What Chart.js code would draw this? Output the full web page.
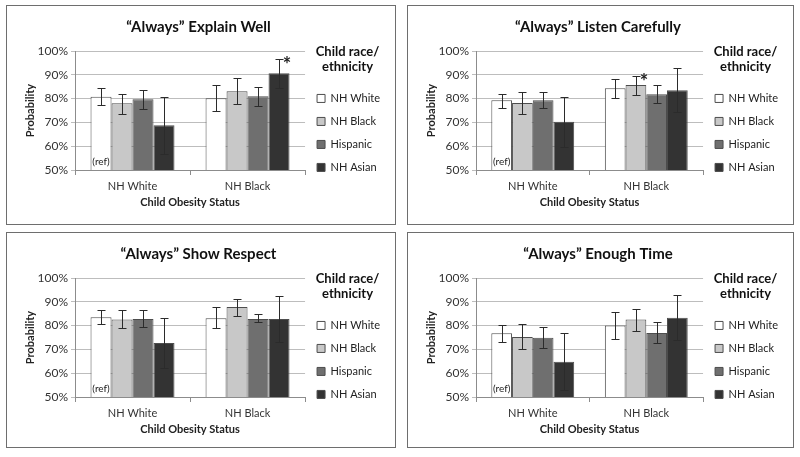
<!DOCTYPE html>
<html>
<head>
<meta charset="utf-8">
<script src="https://cdn.jsdelivr.net/npm/chart.js@4"></script>
<style>
  body { margin: 0; background: #fff; width: 800px; height: 457px; position: relative; overflow: hidden; }
  .panel { position: absolute; border: 1px solid #6e6e6e; box-sizing: border-box; background: #fff; }
  .panel canvas { display: block; }
</style>
</head>
<body>
<div class="panel" style="left:6px;top:5px;width:390px;height:220px"><canvas id="explain_chart" width="388" height="218"></canvas></div>
<div class="panel" style="left:407px;top:5px;width:387px;height:220px"><canvas id="listen_chart" width="385" height="218"></canvas></div>
<div class="panel" style="left:6px;top:232px;width:390px;height:216px"><canvas id="respect_chart" width="388" height="214"></canvas></div>
<div class="panel" style="left:407px;top:232px;width:387px;height:216px"><canvas id="time_chart" width="385" height="214"></canvas></div>
<script>
const categories = ['NH White', 'NH Black'];
const raceGroups = ['NH White', 'NH Black', 'Hispanic', 'NH Asian'];
const raceColors = ['#ffffff', '#c8c8c8', '#6f6f6f', '#333333'];

// [race][obesity group], in %
const explainWellMean = [[80.8, 80.1], [78.0, 83.1], [79.7, 81.0], [68.8, 90.6]];
const explainWellLow = [[77.3, 74.6], [73.5, 77.9], [75.8, 76.8], [56.9, 84.3]];
const explainWellHigh = [[84.3, 85.6], [81.9, 88.5], [83.5, 84.9], [80.8, 96.8]];

const listenMean = [[79.3, 84.3], [78.2, 85.7], [79.3, 81.8], [70.3, 83.5]];
const listenLow = [[75.9, 80.1], [73.5, 81.4], [75.9, 78.0], [59.7, 74.2]];
const listenHigh = [[82.1, 88.4], [82.6, 89.6], [82.9, 85.6], [80.8, 93.0]];

const respectMean = [[83.5, 83.1], [82.6, 87.8], [82.8, 82.8], [72.7, 82.8]];
const respectLow = [[80.5, 79.0], [78.9, 83.9], [79.3, 81.4], [62.0, 73.2]];
const respectHigh = [[86.7, 87.7], [86.7, 91.3], [86.7, 84.7], [83.1, 92.6]];

const timeMean = [[76.8, 80.0], [75.2, 82.6], [74.9, 76.9], [64.8, 83.3]];
const timeLow = [[73.0, 74.2], [70.0, 77.9], [70.6, 72.5], [52.8, 74.1]];
const timeHigh = [[80.1, 85.9], [80.5, 86.8], [79.3, 81.4], [76.8, 92.9]];

Chart.defaults.font.family = 'Lato, "Open Sans", sans-serif';

const errorBars = {
  id: 'errorBars',
  afterDatasetsDraw(chart) {
    const ctx = chart.ctx;
    const y = chart.scales.y;
    ctx.save();
    ctx.strokeStyle = '#2b2b2b';
    ctx.lineWidth = 1;
    chart.data.datasets.forEach((ds, i) => {
      chart.getDatasetMeta(i).data.forEach((bar, j) => {
        const top = Math.round(y.getPixelForValue(ds.high[j])) + 0.5;
        const bottom = Math.round(y.getPixelForValue(ds.low[j])) + 0.5;
        const x = Math.round(bar.x) + 0.5;
        ctx.beginPath();
        ctx.moveTo(x, top);
        ctx.lineTo(x, bottom);
        ctx.moveTo(x - 4, top);
        ctx.lineTo(x + 4, top);
        ctx.moveTo(x - 4, bottom);
        ctx.lineTo(x + 4, bottom);
        ctx.stroke();
      });
    });
    ctx.restore();
  }
};

// "(ref)" label and significance star
const barNotes = {
  id: 'barNotes',
  afterDatasetsDraw(chart, args, opts) {
    const ctx = chart.ctx;
    ctx.save();
    ctx.fillStyle = '#222';
    ctx.textAlign = 'center';
    ctx.textBaseline = 'middle';
    const refBar = chart.getDatasetMeta(0).data[0];
    ctx.font = '10px Lato';
    ctx.fillText('(ref)', refBar.x, chart.chartArea.bottom - 8);
    if (opts.star) {
      const [i, j] = opts.star;
      const bar = chart.getDatasetMeta(i).data[j];
      const top = chart.scales.y.getPixelForValue(chart.data.datasets[i].high[j]);
      ctx.font = 'bold 20px Lato';
      ctx.fillText('*', bar.x + 8, top + 7);
    }
    ctx.restore();
  }
};

function drawPanel(id, title, means, lows, highs, star, bottomPad) {
  new Chart(document.getElementById(id), {
    type: 'bar',
    data: {
      labels: categories,
      datasets: raceGroups.map((name, i) => ({
        label: name,
        data: means[i],
        low: lows[i],
        high: highs[i],
        backgroundColor: raceColors[i],
        borderColor: '#4d4d4d',
        borderWidth: 1,
        categoryPercentage: 0.73,
        barPercentage: 1
      }))
    },
    options: {
      responsive: false,
      animation: false,
      layout: { padding: { left: 0, right: 5, top: 0, bottom: bottomPad } },
      scales: {
        x: {
          afterFit: scale => { scale.height = 50; },
          grid: { drawOnChartArea: false, color: '#8c8c8c', tickLength: 5 },
          border: { color: '#8c8c8c' },
          ticks: { color: '#333', font: { size: 11 }, padding: 5 },
          title: { display: true, text: 'Child Obesity Status', color: '#222', font: { size: 11, weight: 'bold' }, padding: { top: 4, bottom: 11 } }
        },
        y: {
          afterFit: scale => { scale.width = 68; },
          min: 50,
          max: 100,
          ticks: { stepSize: 10, callback: v => v + '%', color: '#333', font: { size: 12 }, padding: 3 },
          grid: { color: '#bdbdbd', tickLength: 4 },
          border: { color: '#8c8c8c' },
          title: { display: true, text: 'Probability', color: '#222', font: { size: 11, weight: 'bold' }, padding: { top: 17, bottom: 4 } }
        }
      },
      plugins: {
        title: { display: true, text: title, color: '#111', font: { size: 15, weight: 'bold' }, padding: { top: 12, bottom: 15 } },
        legend: {
          position: 'right',
          align: 'start',
          labels: { boxWidth: 8, boxHeight: 8, padding: 12, color: '#222', font: { size: 11 } },
          title: {
            display: true,
            text: ['Child race/', 'ethnicity'],
            color: '#111',
            font: { size: 13, weight: 'bold', lineHeight: 1.15 },
            padding: { top: 39, bottom: 21 }
          }
        },
        tooltip: { enabled: false },
        barNotes: { star: star }
      }
    },
    plugins: [errorBars, barNotes]
  });
}

drawPanel('explain_chart', '\u201CAlways\u201D Explain Well', explainWellMean, explainWellLow, explainWellHigh, [3, 1], 4);
drawPanel('listen_chart', '\u201CAlways\u201D Listen Carefully', listenMean, listenLow, listenHigh, [1, 1], 4);
drawPanel('respect_chart', '\u201CAlways\u201D Show Respect', respectMean, respectLow, respectHigh, null, 0);
drawPanel('time_chart', '\u201CAlways\u201D Enough Time', timeMean, timeLow, timeHigh, null, 0);
</script>
</body>
</html>
